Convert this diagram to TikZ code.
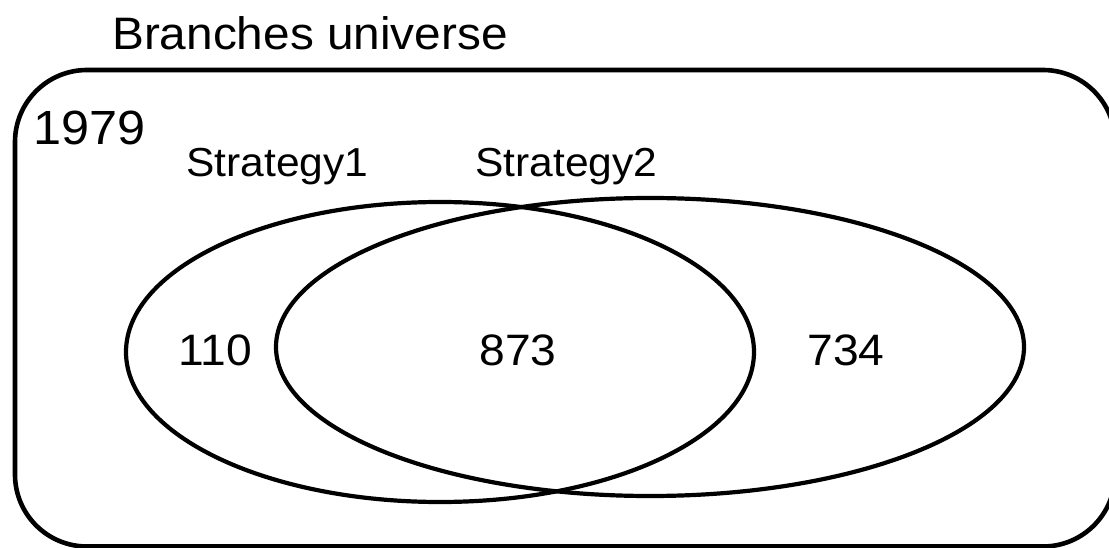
\documentclass[tikz,border=0pt]{standalone}
\usepackage{fontspec}
\setmainfont[FakeStretch=1.05]{Liberation Sans}
\begin{document}
\begin{tikzpicture}[x=1pt,y=-1pt,
  frame/.style={line width=4.6pt,rounded corners=72pt},
  setline/.style={line width=4.2pt},
  lbl/.style={inner sep=0pt,anchor=base west},
  num/.style={inner sep=0pt,anchor=base,font=\fontsize{44}{50}\selectfont}]
\useasboundingbox[fill=white] (0,0) rectangle (1109,548);
\draw[frame] (15,70) rectangle (1115,546.5);
\draw[setline] (440,352) ellipse [x radius=314, y radius=150];
\draw[setline] (650,347) ellipse [x radius=374, y radius=149];
\node[lbl,font=\fontsize{45.5}{52}\selectfont] (title) at (112,50) {Branches universe};
\node[lbl,font=\fontsize{48}{54}\selectfont] (total) at (33,145) {1979};
\node[lbl,font=\fontsize{40.5}{46}\selectfont] (s1) at (186,177) {Strategy1};
\node[lbl,font=\fontsize{40.5}{46}\selectfont] (s2) at (475,177) {Strategy2};
\node[num] (a) at (215,365) {110};
\node[num] (b) at (518,365) {873};
\node[num] (c) at (846,365) {734};
\end{tikzpicture}
\end{document}
